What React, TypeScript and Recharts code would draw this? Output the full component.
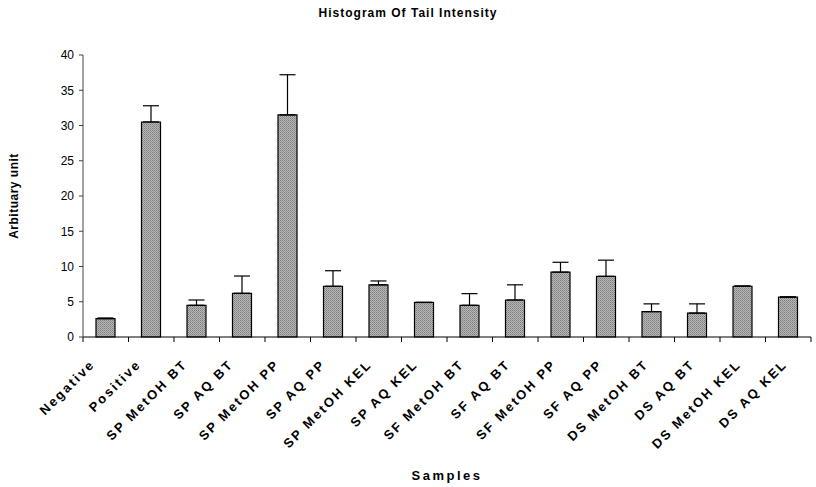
import React from 'react';
import { BarChart, Bar, XAxis, YAxis, ErrorBar, Label } from 'recharts';

const CATEGORIES = [
  'Negative', 'Positive', 'SP MetOH BT', 'SP AQ BT', 'SP MetOH PP', 'SP AQ PP',
  'SP MetOH KEL', 'SP AQ KEL', 'SF MetOH BT', 'SF AQ BT', 'SF MetOH PP', 'SF AQ PP',
  'DS MetOH BT', 'DS AQ BT', 'DS MetOH KEL', 'DS AQ KEL',
];
const MEANS = [2.6, 30.5, 4.5, 6.2, 31.5, 7.2, 7.4, 4.9, 4.5, 5.25, 9.2, 8.6, 3.6, 3.4, 7.2, 5.65];
const ERRORS = [0.1, 2.3, 0.75, 2.45, 5.7, 2.2, 0.55, 0, 1.65, 2.15, 1.4, 2.3, 1.1, 1.3, 0.05, 0.05];
const Y_TICKS = [0, 5, 10, 15, 20, 25, 30, 35, 40];

const W = 816;
const H = 487;
const PLOT_LEFT = 83;
const PLOT_RIGHT = 5;
const PLOT_TOP = 55;
const AXIS_H = 150;
const BAND = (W - PLOT_LEFT - PLOT_RIGHT) / CATEGORIES.length;
const FONT = '"Liberation Sans", Arial, sans-serif';

const data = CATEGORIES.map((name, i) => ({
  name,
  value: MEANS[i],
  err: [0, ERRORS[i]],
}));

// excel spreads the rotated labels a little wider than the bars
const CategoryTick = (props: any) => {
  const { x, y, payload, index } = props;
  const left = x - BAND / 2;
  const lx = x - 10 + index * 0.65;
  const ly = y + 28;
  return (
    <g>
      <line x1={left} y1={y} x2={left} y2={y + 5} stroke="#000" />
      {index === CATEGORIES.length - 1 && (
        <line x1={x + BAND / 2} y1={y} x2={x + BAND / 2} y2={y + 5} stroke="#000" />
      )}
      <text
        x={lx}
        y={ly}
        transform={`rotate(-45, ${lx}, ${ly})`}
        textAnchor="end"
        fontFamily={FONT}
        fontWeight="bold"
        fontSize={13}
        letterSpacing={2.2}
        fill="#000"
      >
        {payload.value}
      </text>
    </g>
  );
};

export default function App() {
  return (
    <div style={{ position: 'absolute', left: 0, top: 0, width: W, height: H, background: '#fff' }}>
      <div
        style={{
          position: 'absolute',
          top: 6,
          left: 0,
          width: W,
          textAlign: 'center',
          fontFamily: FONT,
          fontWeight: 'bold',
          fontSize: 12,
          letterSpacing: 1,
          color: '#000',
        }}
      >
        Histogram Of Tail Intensity
      </div>
      <BarChart
        width={W}
        height={H}
        data={data}
        margin={{ top: PLOT_TOP, right: PLOT_RIGHT, bottom: 0, left: 0 }}
        barSize={19}
      >
        <defs>
          <pattern id="stipple" width="2" height="2" patternUnits="userSpaceOnUse">
            <rect width="2" height="2" fill="#b8b8b8" />
            <rect width="1" height="1" fill="#7c7c7c" />
            <rect x="1" y="1" width="1" height="1" fill="#929292" />
          </pattern>
        </defs>
        <XAxis
          dataKey="name"
          interval={0}
          height={AXIS_H}
          tickLine={false}
          tickSize={0}
          tickMargin={0}
          axisLine={{ stroke: '#000', strokeWidth: 1 }}
          tick={<CategoryTick />}
        >
          <Label
            value="Samples"
            position="insideBottom"
            offset={7}
            style={{ fontFamily: FONT, fontWeight: 'bold', fontSize: 13, letterSpacing: 2.5, fill: '#000' }}
          />
        </XAxis>
        <YAxis
          width={PLOT_LEFT}
          domain={[0, 40]}
          ticks={Y_TICKS}
          interval={0}
          tickSize={4}
          tickMargin={5}
          axisLine={{ stroke: '#444' }}
          tickLine={{ stroke: '#444' }}
          tick={{ fontFamily: FONT, fontSize: 12, fill: '#000' }}
        >
          <Label
            value="Arbituary unit"
            angle={-90}
            position="insideLeft"
            offset={14}
            style={{ fontFamily: FONT, fontWeight: 'bold', fontSize: 12, letterSpacing: 0.5, fill: '#000', textAnchor: 'middle' }}
          />
        </YAxis>
        <Bar dataKey="value" fill="url(#stipple)" stroke="#000" strokeWidth={1.2} isAnimationActive={false}>
          <ErrorBar dataKey="err" direction="y" width={8} stroke="#000" strokeWidth={1.2} isAnimationActive={false} />
        </Bar>
      </BarChart>
    </div>
  );
}
